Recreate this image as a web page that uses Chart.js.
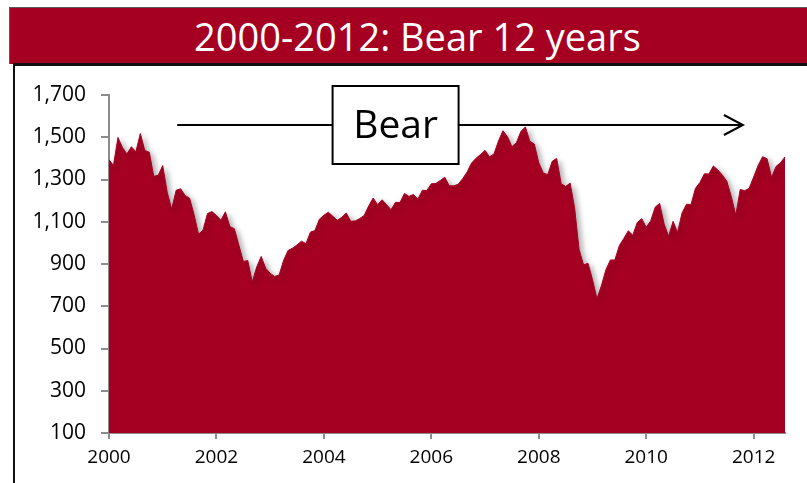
<!DOCTYPE html>
<html>
<head>
<meta charset="utf-8">
<script src="https://cdn.jsdelivr.net/npm/chart.js@4/dist/chart.umd.min.js"></script>
<style>
  body { margin: 0; background: #fff; }
  #wrap { position: relative; width: 807px; height: 483px; overflow: hidden; background: #fff; }
  #bar { position: absolute; left: 9px; top: 7px; width: 800px; height: 56px; background: #a50022;
         border-top: 1px solid #5a5a5a; border-left: 1px solid #5a5a5a; }
  #rule { position: absolute; left: 13px; top: 63px; width: 800px; height: 3px; background: #111; }
  #frame { position: absolute; left: 13px; top: 63px; width: 2px; height: 430px; background: #111; }
  #title { position: absolute; left: 9px; width: 817px; top: 8px; height: 56px; line-height: 56px;
           text-align: center; color: #fff; font-family: "Open Sans", sans-serif; font-size: 38px; }
  canvas { position: absolute; left: 0; top: 0; }
</style>
</head>
<body>
<div id="wrap">
  <div id="bar"></div>
  <div id="rule"></div>
  <div id="frame"></div>
  <div id="title">2000-2012: Bear 12 years</div>
  <canvas id="chart" width="807" height="483"></canvas>
</div>
<script>
// S&P 500 monthly closes, Jan 2000 .. Aug 2012
const startYear = 2000;
const closes = [
  1394, 1366, 1499, 1452, 1421, 1455, 1431, 1518, 1437, 1429, 1315, 1320, // 2000
  1366, 1240, 1160, 1249, 1256, 1224, 1211, 1134, 1041, 1060, 1139, 1148, // 2001
  1130, 1107, 1147, 1077, 1067, 990, 912, 916, 815, 886, 936, 880,        // 2002
  856, 841, 848, 917, 964, 975, 990, 1008, 996, 1051, 1058, 1112,         // 2003
  1131, 1145, 1126, 1107, 1121, 1141, 1102, 1104, 1115, 1130, 1174, 1212, // 2004
  1181, 1204, 1181, 1157, 1192, 1191, 1234, 1220, 1229, 1207, 1249, 1248, // 2005
  1280, 1281, 1295, 1311, 1270, 1270, 1277, 1304, 1336, 1378, 1401, 1418, // 2006
  1438, 1407, 1421, 1482, 1531, 1503, 1455, 1474, 1527, 1549, 1481, 1468, // 2007
  1379, 1331, 1323, 1386, 1400, 1280, 1267, 1283, 1166, 969, 896, 903,    // 2008
  826, 735, 798, 873, 919, 919, 987, 1021, 1057, 1036, 1096, 1115,        // 2009
  1074, 1104, 1169, 1187, 1089, 1031, 1102, 1049, 1141, 1183, 1181, 1258, // 2010
  1286, 1327, 1326, 1364, 1345, 1321, 1292, 1219, 1131, 1253, 1247, 1258, // 2011
  1312, 1366, 1408, 1398, 1310, 1362, 1379, 1407                          // 2012
];
const xTicks = [2000, 2002, 2004, 2006, 2008, 2010, 2012];
const yTicks = [100, 300, 500, 700, 900, 1100, 1300, 1500, 1700];

// arrow + label, in data units
const arrowFrom = { x: 2001.27, y: 1558 };
const arrowTo = { x: 2011.8, y: 1558 };
const boxLabel = 'Bear';

const red = '#a50022';
const points = closes.map((v, i) => ({ x: startYear + i / 12, y: v }));

const shadow = {
  id: 'shadow',
  beforeDatasetsDraw(chart) {
    const ctx = chart.ctx;
    ctx.save();
    ctx.shadowColor = 'rgba(0,0,0,0.35)';
    ctx.shadowBlur = 6;
    ctx.shadowOffsetX = 3;
    ctx.shadowOffsetY = 3;
  },
  afterDatasetsDraw(chart) {
    chart.ctx.restore();
  }
};

const bearArrow = {
  id: 'bearArrow',
  afterDraw(chart) {
    const ctx = chart.ctx;
    const xs = chart.scales.x, ys = chart.scales.y;
    const x1 = xs.getPixelForValue(arrowFrom.x);
    const x2 = xs.getPixelForValue(arrowTo.x);
    const y = ys.getPixelForValue(arrowFrom.y);
    ctx.save();
    ctx.strokeStyle = '#000';
    ctx.lineWidth = 2;
    ctx.beginPath();
    ctx.moveTo(x1, y);
    ctx.lineTo(x2, y);
    ctx.moveTo(x2 - 19, y - 10);
    ctx.lineTo(x2, y);
    ctx.lineTo(x2 - 19, y + 10);
    ctx.stroke();

    const cx = x1 + (x2 - x1) * 0.386;
    const w = 126, h = 78;
    ctx.fillStyle = '#fff';
    ctx.fillRect(cx - w / 2, y - h / 2, w, h);
    ctx.lineWidth = 2;
    ctx.strokeRect(cx - w / 2, y - h / 2, w, h);
    ctx.fillStyle = '#000';
    ctx.font = '39px "Open Sans"';
    ctx.textAlign = 'center';
    ctx.textBaseline = 'middle';
    ctx.fillText(boxLabel, cx, y + 2);
    ctx.restore();
  }
};

new Chart(document.getElementById('chart'), {
  type: 'line',
  data: {
    datasets: [{
      data: points,
      borderColor: red,
      backgroundColor: red,
      borderWidth: 1,
      pointRadius: 0,
      fill: 'start',
      tension: 0
    }]
  },
  options: {
    responsive: false,
    animation: false,
    layout: { padding: { left: 0, top: 95, right: 22, bottom: 0 } },
    plugins: { legend: { display: false }, tooltip: { enabled: false } },
    scales: {
      x: {
        type: 'linear',
        min: 2000,
        max: startYear + (closes.length - 1) / 12,
        afterBuildTicks: s => { s.ticks = xTicks.map(v => ({ value: v })); },
        afterFit: s => { s.height = 50; },
        grid: { drawOnChartArea: false, tickLength: 6, color: '#8c8c8c', lineWidth: 2 },
        border: { color: '#8c8c8c', width: 2 },
        ticks: { color: '#000', padding: 7, maxRotation: 0, font: { family: 'Open Sans', size: 19 },
                 callback: v => String(v) }
      },
      y: {
        min: 100,
        max: 1700,
        afterBuildTicks: s => { s.ticks = yTicks.map(v => ({ value: v })); },
        afterFit: s => { s.width = 109; },
        grid: { drawOnChartArea: false, tickLength: 8, color: '#8c8c8c', lineWidth: 2 },
        border: { color: '#8c8c8c', width: 2 },
        ticks: { color: '#000', padding: 15, font: { family: 'Open Sans', size: 21 },
                 callback: v => v.toLocaleString('en-US') }
      }
    }
  },
  plugins: [shadow, bearArrow]
});
</script>
</body>
</html>
